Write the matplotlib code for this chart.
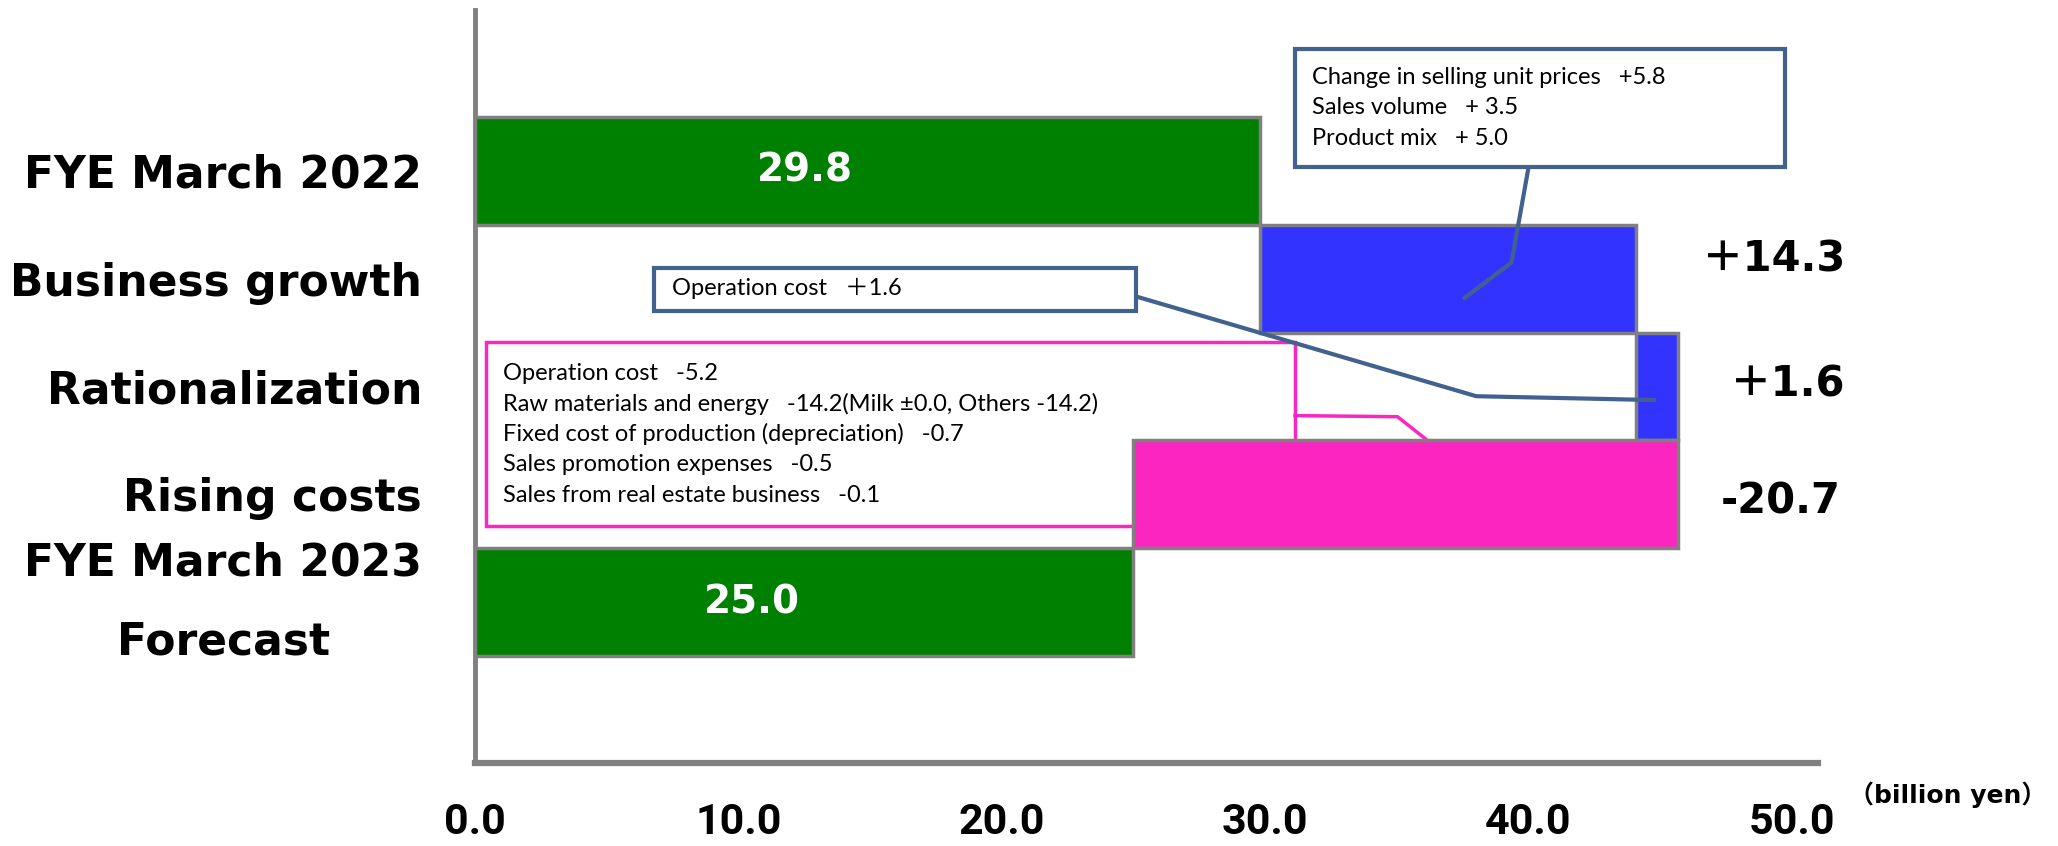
import matplotlib
matplotlib.use("Agg")
import matplotlib.pyplot as plt
from matplotlib.patches import Rectangle

# ---------------------------------------------------------------------------
# Operating profit bridge (billion yen)
# ---------------------------------------------------------------------------
categories = ["FYE March 2022", "Business growth", "Rationalization",
              "Rising costs", "FYE March 2023\nForecast"]
start_value = 29.8
deltas = [14.3, 1.6, -20.7]
end_value = 25.0

x_ticks = [0, 10, 20, 30, 40, 50]

growth_notes = ["Change in selling unit prices   +5.8",
                "Sales volume   + 3.5",
                "Product mix   + 5.0"]
rational_note = "Operation cost   ＋1.6"
cost_notes = ["Operation cost   -5.2",
              "Raw materials and energy   -14.2(Milk ±0.0, Others -14.2)",
              "Fixed cost of production (depreciation)   -0.7",
              "Sales promotion expenses   -0.5",
              "Sales from real estate business   -0.1"]

GREEN = "#008000"
BLUE = "#3333FF"
PINK = "#FB26BF"
EDGE = "#808080"
NOTE_BLUE = "#41618F"

BOLD = ["DejaVu Sans", "Noto Sans CJK JP"]
BODY = ["Lato", "Noto Sans CJK JP"]
NUMS = ["Roboto", "Noto Sans CJK JP"]

fig = plt.figure(figsize=(20.58, 8.46), dpi=100)
ax = fig.add_axes([0.2308, 0.0981, 0.6526, 0.8901])

# totals
ax.barh(0, start_value, height=1.0, color=GREEN, edgecolor=EDGE, linewidth=2.5, zorder=3)
ax.barh(4, end_value, height=1.0, color=GREEN, edgecolor=EDGE, linewidth=2.5, zorder=3)

# floating steps
running = start_value
step_colors = [BLUE if d > 0 else PINK for d in deltas]
for i, (d, c) in enumerate(zip(deltas, step_colors), start=1):
    left = min(running, running + d)
    ax.barh(i, abs(d), left=left, height=1.0, color=c, edgecolor=EDGE,
            linewidth=2.5, zorder=3)
    running += d

# value labels
for row, v in [(0, start_value), (4, end_value)]:
    ax.text(v * 0.42, row, f"{v:.1f}", color="white", fontsize=28,
            fontweight="bold", family=BOLD, ha="center", va="center", zorder=5)

delta_pos = [(49.35, 0.82), (49.85, 1.98), (49.6, 3.07)]
for d, (x, y) in zip(deltas, delta_pos):
    txt = f"＋{d:.1f}" if d > 0 else f"{d:.1f}"
    ax.text(x, y, txt, fontsize=30, fontweight="bold", family=BOLD,
            ha="center", va="center", zorder=5)

# callout: business growth
ax.add_patch(Rectangle((31.14, -1.13), 18.59, 1.094, facecolor="white",
                       edgecolor=NOTE_BLUE, linewidth=3, zorder=2))
for k, line in enumerate(growth_notes):
    ax.text(31.79, -0.863 + k * 0.28, line, fontsize=17, family=BODY,
            ha="left", va="center", zorder=5)
ax.plot([40.01, 39.36, 37.52], [-0.036, 0.851, 1.19], color=NOTE_BLUE,
        linewidth=3, zorder=4, solid_capstyle="butt")

# callout: rationalization
ax.add_patch(Rectangle((6.78, 0.899), 18.33, 0.401, facecolor="white",
                       edgecolor=NOTE_BLUE, linewidth=3, zorder=2))
ax.text(7.47, 1.094, rational_note, fontsize=17, family=BODY,
        ha="left", va="center", zorder=5)
ax.plot([25.11, 38.02, 44.84], [1.166, 2.09, 2.126], color=NOTE_BLUE,
        linewidth=3, zorder=4, solid_capstyle="butt")

# callout: rising costs (sits behind the pink bar)
ax.add_patch(Rectangle((0.40, 1.59), 30.74, 1.70, facecolor="white",
                       edgecolor=PINK, linewidth=2.5, zorder=1))
for k, line in enumerate(cost_notes):
    ax.text(1.05, 1.88 + k * 0.282, line, fontsize=17, family=BODY,
            ha="left", va="center", zorder=2)
ax.plot([31.14, 35.03, 36.17], [2.27, 2.28, 2.50], color=PINK,
        linewidth=2.5, zorder=2)

# axes
ax.set_xlim(0, 51)
ax.set_ylim(5.49, -1.49)
ax.set_xticks(x_ticks)
ax.set_xticklabels([f"{t:.1f}" for t in x_ticks])
ax.set_yticks(range(len(categories)))
ax.set_yticklabels(categories)
ax.tick_params(axis="both", length=0)
ax.tick_params(axis="x", pad=28)
ax.tick_params(axis="y", pad=38)
for lbl in ax.get_xticklabels():
    lbl.set_fontfamily(NUMS)
    lbl.set_fontweight("bold")
    lbl.set_fontsize(31)
for lbl in ax.get_yticklabels():
    lbl.set_fontfamily(BOLD)
    lbl.set_fontweight("bold")
    lbl.set_fontsize(31.7)
    lbl.set_multialignment("center")
    lbl.set_linespacing(2.05)
ax.get_yticklabels()[-1].set_verticalalignment("center")

for side in ["top", "right"]:
    ax.spines[side].set_visible(False)
ax.spines["left"].set_color(EDGE)
ax.spines["left"].set_linewidth(3.5)
ax.spines["bottom"].set_color(EDGE)
ax.spines["bottom"].set_linewidth(4.5)

fig.text(0.9466, 0.060, "（billion yen）", fontsize=18, fontweight="bold",
         family=BOLD, ha="center", va="center")

fig.savefig("out.png", dpi=100)
